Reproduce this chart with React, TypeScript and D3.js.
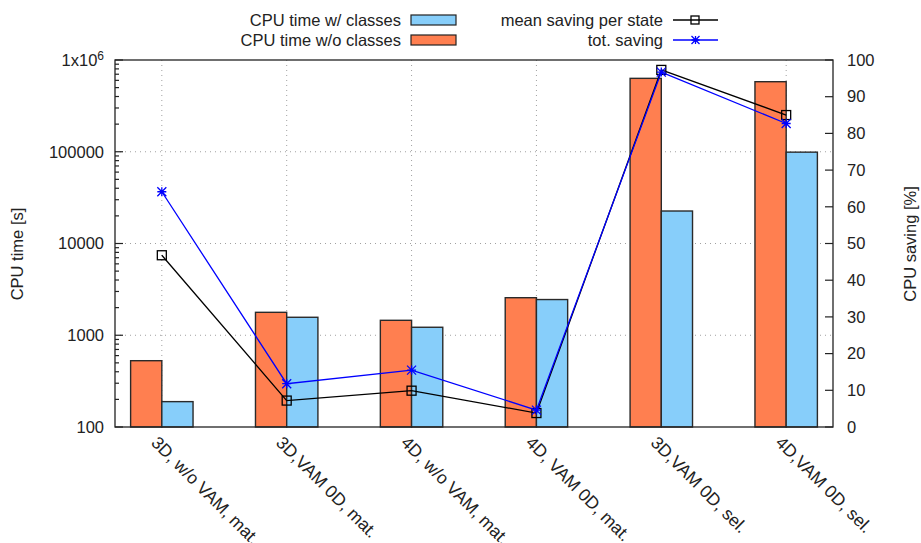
import * as d3 from "d3";

const categories = [
  "3D, w/o VAM, mat.",
  "3D,VAM 0D, mat.",
  "4D, w/o VAM, mat.",
  "4D, VAM 0D, mat.",
  "3D,VAM 0D, sel.",
  "4D,VAM 0D, sel.",
];
const cpuWithClasses = [189, 1570, 1222, 2450, 22600, 99000];
const cpuWithoutClasses = [528, 1778, 1455, 2566, 631000, 580000];
const meanSaving = [46.8, 7.2, 9.9, 3.8, 97.3, 85.0];
const totSaving = [64.1, 11.8, 15.5, 4.6, 96.7, 82.7];
const leftTicks = [100, 1000, 10000, 100000, 1000000];
const rightTicks = [0, 10, 20, 30, 40, 50, 60, 70, 80, 90, 100];

const W = 921;
const H = 543;
const FONT = "'Liberation Sans', Arial, sans-serif";

const App = () => {
  const left = 115;
  const right = 833;
  const top = 60;
  const bottom = 427;

  const x = d3.scaleLinear().domain([-0.375, 5.375]).range([left, right]);
  const y = d3.scaleLog().domain([100, 1e6]).range([bottom, top]);
  const y2 = d3.scaleLinear().domain([0, 100]).range([bottom, top]);

  // minor ticks for log axis
  const minor: number[] = [];
  for (let p = 100; p < 1e6; p *= 10) {
    for (let k = 2; k <= 9; k++) minor.push(p * k);
  }

  const line = d3
    .line<number>()
    .x((_, i) => x(i))
    .y((d) => y2(d));

  const star = (cx: number, cy: number, r: number) =>
    `M${cx - r},${cy}L${cx + r},${cy}M${cx},${cy - r}L${cx},${cy + r}` +
    `M${cx - r},${cy - r}L${cx + r},${cy + r}M${cx - r},${cy + r}L${cx + r},${cy - r}`;

  const bw = 0.25;

  return (
    <svg
      width={W}
      height={H}
      style={{ position: "absolute", left: 0, top: 0, background: "#fff" }}
      fontFamily={FONT}
      fontSize={16.5}
    >
      {/* grid */}
      <g stroke="#a0a0a0" strokeWidth={1} strokeDasharray="1,4">
        {[1000, 10000, 100000].map((t) => (
          <line key={t} x1={left} x2={right} y1={y(t)} y2={y(t)} />
        ))}
        {categories.map((_, i) => (
          <line key={i} x1={x(i)} x2={x(i)} y1={top} y2={bottom} />
        ))}
      </g>

      {/* bars */}
      <g stroke="#2a2a2a" strokeWidth={1.4}>
        {cpuWithoutClasses.map((v, i) => (
          <rect
            key={"o" + i}
            x={x(i - bw)}
            y={y(v)}
            width={x(i) - x(i - bw)}
            height={bottom - y(v)}
            fill="#ff7f50"
          />
        ))}
        {cpuWithClasses.map((v, i) => (
          <rect
            key={"b" + i}
            x={x(i)}
            y={y(v)}
            width={x(i + bw) - x(i)}
            height={bottom - y(v)}
            fill="#87cefa"
          />
        ))}
      </g>

      {/* lines */}
      <path d={line(meanSaving) ?? ""} fill="none" stroke="#000" strokeWidth={1.3} />
      {meanSaving.map((v, i) => (
        <rect
          key={"m" + i}
          x={x(i) - 4.5}
          y={y2(v) - 4.5}
          width={9}
          height={9}
          fill="none"
          stroke="#000"
          strokeWidth={1.3}
        />
      ))}
      <path d={line(totSaving) ?? ""} fill="none" stroke="#0000ff" strokeWidth={1.3} />
      {totSaving.map((v, i) => (
        <path key={"t" + i} d={star(x(i), y2(v), 4.5)} stroke="#0000ff" strokeWidth={1.3} />
      ))}

      {/* border */}
      <rect x={left} y={top} width={right - left} height={bottom - top} fill="none" stroke="#222" strokeWidth={1.3} />

      {/* axis ticks */}
      <g stroke="#222" strokeWidth={1.2}>
        {leftTicks.map((t) => (
          <line key={t} x1={left} x2={left + 8} y1={y(t)} y2={y(t)} />
        ))}
        {minor.map((t) => (
          <line key={t} x1={left} x2={left + 4} y1={y(t)} y2={y(t)} />
        ))}
        {rightTicks.map((t) => (
          <line key={t} x1={right} x2={right - 8} y1={y2(t)} y2={y2(t)} />
        ))}
      </g>

      {/* left tick labels */}
      {leftTicks.map((t) => (
        <text key={t} x={104} y={y(t)} dy="0.35em" textAnchor="end" fill="#222">
          {t === 1e6 ? (
            <>
              1x10<tspan dy="-0.45em" fontSize={12}>6</tspan>
            </>
          ) : (
            String(t)
          )}
        </text>
      ))}

      {/* right tick labels */}
      {rightTicks.map((t) => (
        <text key={t} x={847} y={y2(t)} dy="0.35em" textAnchor="start" fill="#222">
          {t}
        </text>
      ))}

      {/* axis titles */}
      <text transform={`translate(23,254) rotate(-90)`} textAnchor="middle" fill="#222">
        CPU time [s]
      </text>
      <text transform={`translate(916,244) rotate(-90)`} textAnchor="middle" fill="#222">
        CPU saving [%]
      </text>

      {/* x labels */}
      {categories.map((c, i) => (
        <text
          key={c}
          transform={`translate(${x(i) - 3},${435}) rotate(45)`}
          dy="0.7em"
          textAnchor="start"
          fill="#222"
          fontSize={17.5}
        >
          {c}
        </text>
      ))}

      {/* legend */}
      <g fill="#222">
        <text x={401} y={20} dy="0.35em" textAnchor="end">CPU time w/ classes</text>
        <rect x={411} y={15} width={45} height={10} fill="#87cefa" stroke="#222" strokeWidth={1.2} />
        <text x={401} y={40} dy="0.35em" textAnchor="end">CPU time w/o classes</text>
        <rect x={411} y={35} width={45} height={10} fill="#ff7f50" stroke="#222" strokeWidth={1.2} />

        <text x={663} y={20} dy="0.35em" textAnchor="end">mean saving per state</text>
        <line x1={673} x2={718} y1={20} y2={20} stroke="#000" strokeWidth={1.3} />
        <rect x={691} y={16} width={8} height={8} fill="none" stroke="#000" strokeWidth={1.3} />
        <text x={663} y={40} dy="0.35em" textAnchor="end">tot. saving</text>
        <line x1={673} x2={718} y1={40} y2={40} stroke="#0000ff" strokeWidth={1.3} />
        <path d={star(695.5, 40, 4)} stroke="#0000ff" strokeWidth={1.3} />
      </g>
    </svg>
  );
};

export default App;
